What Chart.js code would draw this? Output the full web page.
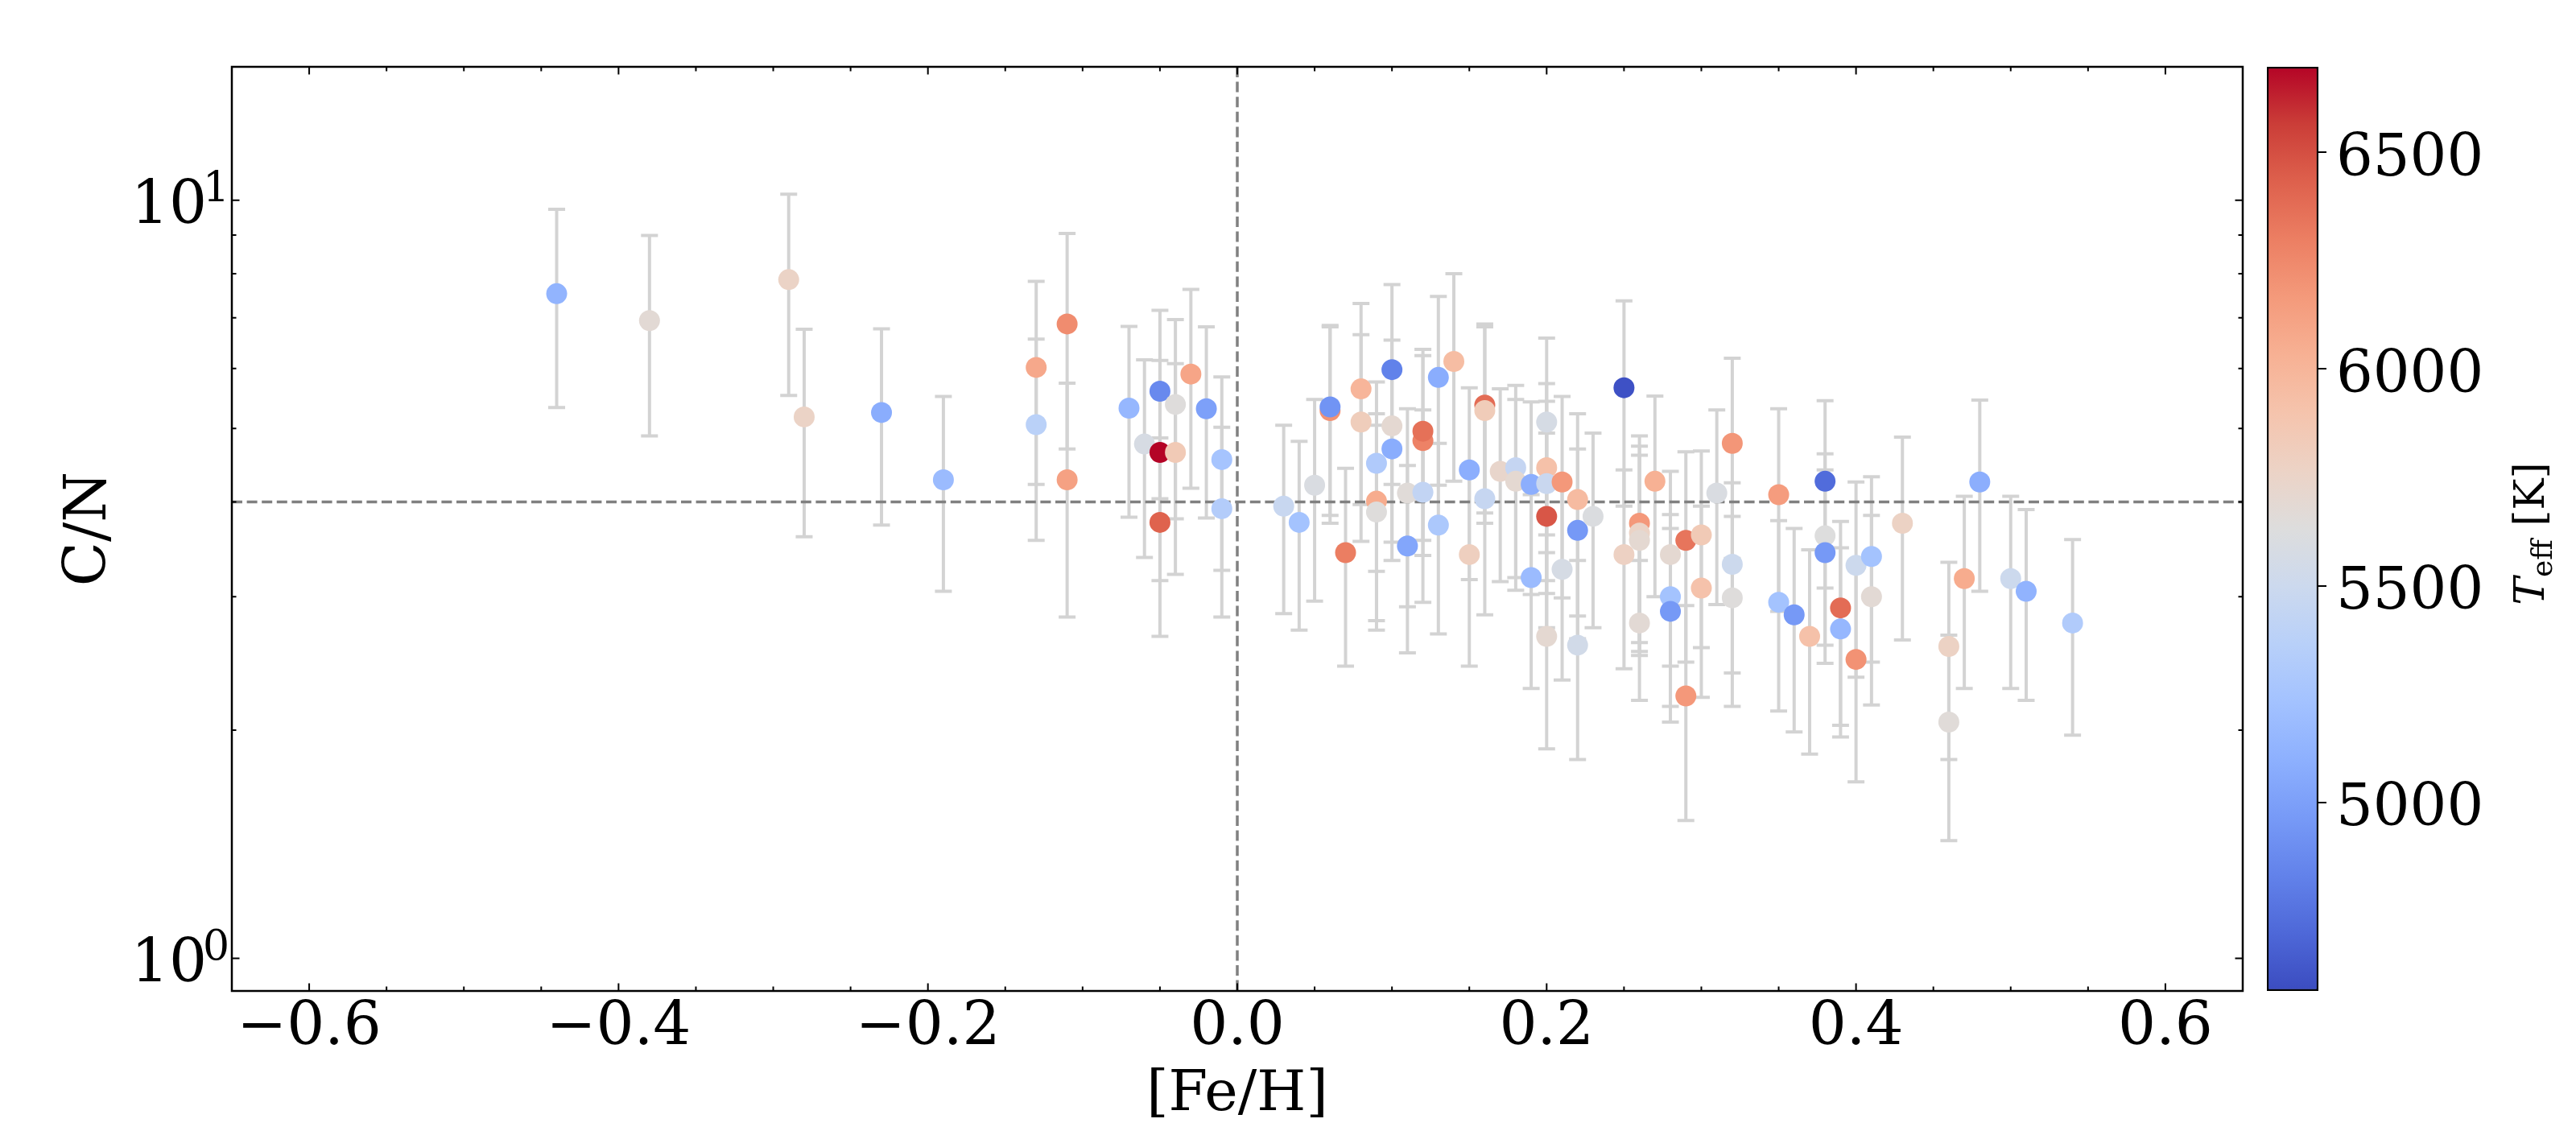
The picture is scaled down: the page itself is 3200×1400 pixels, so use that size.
<!DOCTYPE html>
<html>
<head>
<meta charset="utf-8">
<title>C/N vs [Fe/H]</title>
<script src="https://cdn.jsdelivr.net/npm/chart.js@4.4.0/dist/chart.umd.min.js"></script>
<style>
    html, body { margin: 0; padding: 0; background: #ffffff; }
    #wrap { position: relative; width: 3200px; height: 1400px; }
    #mainChart { position: absolute; left: 0; top: 0; }
    #cbChart { position: absolute; left: 2700px; top: 0; }
</style>
</head>
<body>
<div id="wrap">
    <canvas id="mainChart" width="3200" height="1400"></canvas>
    <canvas id="cbChart" width="500" height="1400"></canvas>
</div>
<script>
// Dados: metalicidade, razão C/N, erro em C/N e Teff de cada estrela
const feH = [
    -0.44, -0.38, -0.29, -0.28, -0.23, -0.19, -0.13, -0.13, -0.11, -0.11,
    -0.07, -0.06, -0.05, -0.05, -0.05, -0.04, -0.04, -0.03, -0.02, -0.01,
    -0.01, 0.03, 0.04, 0.05, 0.06, 0.06, 0.07, 0.08, 0.08, 0.09,
    0.09, 0.09, 0.10, 0.10, 0.10, 0.11, 0.11, 0.12, 0.12, 0.12,
    0.13, 0.13, 0.14, 0.15, 0.15, 0.16, 0.16, 0.16, 0.17, 0.18,
    0.18, 0.19, 0.19, 0.20, 0.20, 0.20, 0.20, 0.20, 0.21, 0.21,
    0.22, 0.22, 0.22, 0.23, 0.25, 0.25, 0.26, 0.26, 0.26, 0.26,
    0.27, 0.28, 0.28, 0.28, 0.29, 0.29, 0.30, 0.30, 0.31, 0.32,
    0.32, 0.32, 0.35, 0.35, 0.36, 0.37, 0.38, 0.38, 0.38, 0.39,
    0.39, 0.40, 0.40, 0.41, 0.41, 0.43, 0.46, 0.46, 0.47, 0.48,
    0.50, 0.51, 0.54
];
const cn = [
    7.53, 6.94, 7.86, 5.18, 5.25, 4.28, 6.02, 5.06, 6.87, 4.28,
    5.32, 4.77, 5.60, 4.65, 3.76, 5.38, 4.65, 5.90, 5.31, 4.55,
    3.92, 3.95, 3.76, 4.21, 5.28, 5.34, 3.43, 5.64, 5.10, 4.50,
    4.01, 3.88, 5.98, 5.04, 4.70, 4.11, 3.50, 4.82, 4.96, 4.12,
    5.84, 3.73, 6.13, 4.41, 3.41, 5.37, 5.28, 4.04, 4.39, 4.44,
    4.26, 4.22, 3.18, 5.10, 4.44, 4.23, 3.83, 2.66, 4.25, 3.26,
    4.03, 3.67, 2.59, 3.83, 5.66, 3.41, 3.75, 3.64, 3.56, 2.77,
    4.26, 3.41, 3.00, 2.87, 3.56, 2.22, 3.62, 3.08, 4.11, 4.78,
    3.31, 2.99, 4.09, 2.95, 2.84, 2.66, 4.26, 3.61, 3.43, 2.90,
    2.72, 3.30, 2.48, 3.39, 3.00, 3.75, 2.58, 2.05, 3.17, 4.25,
    3.17, 3.05, 2.77
];
const cnErr = [
    2.20, 2.05, 2.33, 1.58, 1.52, 1.23, 1.80, 1.50, 2.17, 1.46,
    1.50, 1.39, 1.56, 1.50, 1.10, 1.58, 1.44, 1.73, 1.50, 1.30,
    1.10, 1.10, 1.05, 1.25, 1.53, 1.50, 1.00, 1.67, 1.55, 1.26,
    1.22, 1.17, 1.76, 1.50, 1.35, 1.20, 0.97, 1.42, 1.40, 1.17,
    1.63, 1.05, 1.87, 1.25, 0.98, 1.50, 1.53, 1.20, 1.25, 1.26,
    1.20, 1.20, 0.91, 1.48, 1.29, 1.20, 1.10, 0.77, 1.26, 0.93,
    1.20, 1.03, 0.76, 1.10, 1.71, 1.00, 1.14, 1.10, 1.05, 0.58,
    1.26, 0.98, 0.85, 0.82, 1.10, 0.70, 1.05, 0.87, 1.18, 1.41,
    0.93, 0.84, 1.22, 0.83, 0.85, 0.80, 1.18, 1.02, 0.98, 0.87,
    0.76, 0.95, 0.77, 0.93, 0.84, 1.12, 0.75, 0.62, 0.90, 1.20,
    0.90, 0.86, 0.80
];
const teff = [
    5130, 5680, 5760, 5760, 5080, 5180, 6080, 5380, 6230, 6120,
    5150, 5580, 4870, 6700, 6420, 5640, 5850, 6100, 5000, 5250,
    5330, 5470, 5240, 5600, 6200, 4930, 6300, 6000, 5820, 5310,
    6060, 5640, 4830, 5700, 5080, 5660, 5040, 6280, 6360, 5430,
    5080, 5290, 5950, 5090, 5800, 6380, 5830, 5460, 5730, 5450,
    5700, 5090, 5180, 5570, 5920, 5480, 6470, 5700, 6170, 5570,
    5960, 4960, 5540, 5610, 4590, 5780, 6170, 5760, 5700, 5680,
    6030, 5700, 5240, 4960, 6340, 6170, 5850, 5910, 5600, 6180,
    5500, 5640, 6150, 5240, 4960, 5920, 4720, 5630, 4960, 6380,
    5150, 5500, 6200, 5240, 5680, 5770, 5770, 5660, 6060, 5090,
    5500, 5120, 5320
];

// Marcas dos eixos
const xMajorTicks = [-0.6, -0.4, -0.2, 0.0, 0.2, 0.4, 0.6];
const xMinorTicks = [-0.55, -0.5, -0.45, -0.35, -0.3, -0.25, -0.15, -0.1, -0.05,
    0.05, 0.1, 0.15, 0.25, 0.3, 0.35, 0.45, 0.5, 0.55];
const yMajorTicks = [1, 10];
const yTickExponents = ['0', '1'];
const yMinorTicks = [2, 3, 4, 5, 6, 7, 8, 9];
const cbTicks = [5000, 5500, 6000, 6500];

// Linhas de referência
const refCN = 4.0;
const refFeH = 0.0;

// Limites da escala de cor
const teffMin = 4565;
const teffMax = 6697;

const FONT = "'DejaVu Serif', serif";
const TICK_SIZE = 74;

// Mapa de cores coolwarm (matplotlib), amostrado
const coolwarm = [
    [0.0, 58.6, 76.2, 192.2],
    [0.0625, 77.5, 103.7, 215.5],
    [0.125, 97.7, 129.9, 233.9],
    [0.1875, 119.0, 154.2, 246.9],
    [0.25, 141.0, 175.7, 253.8],
    [0.3125, 163.0, 193.7, 254.5],
    [0.375, 184.2, 207.6, 249.0],
    [0.4375, 203.7, 216.7, 237.6],
    [0.5, 220.7, 220.7, 220.7],
    [0.5625, 235.7, 211.0, 197.5],
    [0.625, 244.5, 196.3, 172.9],
    [0.6875, 247.3, 177.0, 147.7],
    [0.75, 244.3, 153.7, 122.9],
    [0.8125, 235.6, 126.8, 98.9],
    [0.875, 221.6, 96.5, 76.6],
    [0.9375, 202.9, 61.5, 56.2],
    [1.0, 180.0, 4.0, 38.3]
];

function coolwarmColor(t) {
    t = Math.max(0, Math.min(1, t));
    for (let i = 1; i < coolwarm.length; i++) {
        if (t <= coolwarm[i][0]) {
            const a = coolwarm[i - 1], b = coolwarm[i];
            const f = (t - a[0]) / (b[0] - a[0]);
            const r = Math.round(a[1] + f * (b[1] - a[1]));
            const g = Math.round(a[2] + f * (b[2] - a[2]));
            const bl = Math.round(a[3] + f * (b[3] - a[3]));
            return `rgb(${r}, ${g}, ${bl})`;
        }
    }
    return 'rgb(180, 4, 38)';
}

function teffColor(value) {
    return coolwarmColor((value - teffMin) / (teffMax - teffMin));
}

function formatFeH(v) {
    const s = Math.abs(v).toFixed(1);
    return v < -1e-9 ? '\u2212' + s : s;
}

// Barras de erro, linhas tracejadas, moldura e marcas internas
const axesDecor = {
    id: 'axesDecor',
    beforeDatasetsDraw(chart) {
        const { ctx, chartArea, scales: { x, y } } = chart;
        ctx.save();

        // barras de erro (atrás dos pontos)
        ctx.strokeStyle = '#d3d3d3';
        ctx.lineWidth = 4;
        const cap = 10.5;
        for (let i = 0; i < feH.length; i++) {
            const px = x.getPixelForValue(feH[i]);
            const top = y.getPixelForValue(cn[i] + cnErr[i]);
            const bot = y.getPixelForValue(cn[i] - cnErr[i]);
            ctx.beginPath();
            ctx.moveTo(px, top);
            ctx.lineTo(px, bot);
            ctx.moveTo(px - cap, top);
            ctx.lineTo(px + cap, top);
            ctx.moveTo(px - cap, bot);
            ctx.lineTo(px + cap, bot);
            ctx.stroke();
        }

        // linhas de referência tracejadas
        ctx.strokeStyle = '#808080';
        ctx.lineWidth = 3.5;
        ctx.setLineDash([13, 5.6]);
        const yRef = y.getPixelForValue(refCN);
        ctx.beginPath();
        ctx.moveTo(chartArea.left, yRef);
        ctx.lineTo(chartArea.right, yRef);
        ctx.stroke();
        const xRef = x.getPixelForValue(refFeH);
        ctx.beginPath();
        ctx.moveTo(xRef, chartArea.top);
        ctx.lineTo(xRef, chartArea.bottom);
        ctx.stroke();
        ctx.restore();
    },
    afterDraw(chart) {
        const { ctx, chartArea: a, scales: { x, y } } = chart;
        ctx.save();
        ctx.strokeStyle = '#000';
        ctx.lineWidth = 2;

        function xTick(v, len) {
            const px = x.getPixelForValue(v);
            ctx.beginPath();
            ctx.moveTo(px, a.bottom);
            ctx.lineTo(px, a.bottom - len);
            ctx.moveTo(px, a.top);
            ctx.lineTo(px, a.top + len);
            ctx.stroke();
        }
        function yTick(v, len) {
            const py = y.getPixelForValue(v);
            ctx.beginPath();
            ctx.moveTo(a.left, py);
            ctx.lineTo(a.left + len, py);
            ctx.moveTo(a.right, py);
            ctx.lineTo(a.right - len, py);
            ctx.stroke();
        }
        xMajorTicks.forEach(v => xTick(v, 9.5));
        xMinorTicks.forEach(v => xTick(v, 5.5));
        yMajorTicks.forEach(v => yTick(v, 9.5));
        yMinorTicks.forEach(v => yTick(v, 5.5));

        ctx.lineWidth = 2.5;
        ctx.strokeRect(a.left, a.top, a.right - a.left, a.bottom - a.top);

        // expoentes dos rótulos 10^n
        ctx.fillStyle = '#000';
        ctx.font = `${Math.round(TICK_SIZE * 0.7)}px ${FONT}`;
        ctx.textAlign = 'left';
        ctx.textBaseline = 'alphabetic';
        yMajorTicks.forEach((v, i) => {
            ctx.fillText(yTickExponents[i], 252, y.getPixelForValue(v) + 1);
        });
        ctx.restore();
    }
};

// Gráfico principal
const points = feH.map((v, i) => ({ x: v, y: cn[i] }));

new Chart(document.getElementById('mainChart'), {
    type: 'scatter',
    data: {
        datasets: [{
            data: points,
            pointRadius: 13,
            pointHoverRadius: 13,
            borderWidth: 0,
            pointBorderWidth: 0,
            pointBackgroundColor: teff.map(teffColor),
            pointBorderColor: 'rgba(0,0,0,0)'
        }]
    },
    options: {
        responsive: false,
        animation: false,
        devicePixelRatio: 1,
        events: [],
        layout: { padding: { left: 0, top: 83, right: 414, bottom: 0 } },
        plugins: { legend: { display: false }, tooltip: { enabled: false } },
        scales: {
            x: {
                type: 'linear',
                min: -0.65,
                max: 0.65,
                grid: { display: false, drawTicks: false },
                border: { display: false },
                afterBuildTicks: scale => { scale.ticks = xMajorTicks.map(v => ({ value: v })); },
                afterFit: scale => { scale.height = 169; },
                ticks: {
                    autoSkip: false,
                    maxRotation: 0,
                    padding: 2,
                    color: '#000',
                    font: { family: FONT, size: TICK_SIZE },
                    callback: v => formatFeH(v)
                },
                title: {
                    display: true,
                    text: '[Fe/H]',
                    color: '#000',
                    font: { family: FONT, size: 70 },
                    padding: { top: 0, bottom: -3 }
                }
            },
            y: {
                type: 'logarithmic',
                min: 0.906,
                max: 15,
                grid: { display: false, drawTicks: false },
                border: { display: false },
                afterBuildTicks: scale => { scale.ticks = yMajorTicks.map(v => ({ value: v })); },
                afterFit: scale => { scale.width = 288; },
                ticks: {
                    autoSkip: false,
                    padding: 31,
                    labelOffset: 9,
                    color: '#000',
                    font: { family: FONT, size: TICK_SIZE },
                    callback: () => '10'
                },
                title: {
                    display: true,
                    text: 'C/N',
                    color: '#000',
                    font: { family: FONT, size: 72 },
                    padding: { top: 69, bottom: 0 }
                }
            }
        }
    },
    plugins: [axesDecor]
});

// Rótulo da barra de cores: T_eff [K]
const cbLabel = {
    id: 'cbLabel',
    afterDraw(chart) {
        const ctx = chart.ctx;
        const fs = 52;
        const a = chart.chartArea;
        ctx.save();
        ctx.fillStyle = '#000';
        ctx.translate(441, (a.top + a.bottom) / 2 + 6);
        ctx.rotate(-Math.PI / 2);
        ctx.textAlign = 'left';
        ctx.textBaseline = 'alphabetic';
        const italicFont = `italic ${fs}px ${FONT}`;
        const subFont = `${Math.round(fs * 0.7)}px ${FONT}`;
        const mainFont = `${fs}px ${FONT}`;
        ctx.font = italicFont;
        const wT = ctx.measureText('T').width;
        ctx.font = subFont;
        const wSub = ctx.measureText('eff').width;
        ctx.font = mainFont;
        const wK = ctx.measureText(' [K]').width;
        const base = fs * 0.365;
        let pos = -(wT + wSub + wK) / 2;
        ctx.font = italicFont;
        ctx.fillText('T', pos, base);
        pos += wT;
        ctx.font = subFont;
        ctx.fillText('eff', pos, base + fs * 0.2);
        pos += wSub;
        ctx.font = mainFont;
        ctx.fillText(' [K]', pos, base);
        ctx.restore();
    }
};

// Barra de cores como uma barra flutuante com gradiente
new Chart(document.getElementById('cbChart'), {
    type: 'bar',
    data: {
        labels: ['Teff'],
        datasets: [{
            data: [[teffMin, teffMax]],
            barPercentage: 1,
            categoryPercentage: 1,
            borderColor: '#000',
            borderWidth: 2.5,
            borderSkipped: false,
            backgroundColor: context => {
                const chart = context.chart;
                const { ctx, chartArea, scales } = chart;
                if (!chartArea) return null;
                const g = ctx.createLinearGradient(0, scales.y.getPixelForValue(teffMin),
                    0, scales.y.getPixelForValue(teffMax));
                coolwarm.forEach(s => g.addColorStop(s[0], `rgb(${s[1]}, ${s[2]}, ${s[3]})`));
                return g;
            }
        }]
    },
    options: {
        responsive: false,
        animation: false,
        devicePixelRatio: 1,
        events: [],
        layout: { padding: { left: 116, top: 83, right: 0, bottom: 169 } },
        plugins: { legend: { display: false }, tooltip: { enabled: false } },
        scales: {
            x: { display: false },
            y: {
                position: 'right',
                min: teffMin,
                max: teffMax,
                border: { display: false },
                grid: {
                    drawOnChartArea: false,
                    drawTicks: true,
                    tickLength: 10,
                    color: '#000',
                    lineWidth: 2
                },
                afterBuildTicks: scale => { scale.ticks = cbTicks.map(v => ({ value: v })); },
                afterFit: scale => { scale.width = 320; },
                ticks: {
                    padding: 12,
                    labelOffset: 10,
                    color: '#000',
                    font: { family: FONT, size: 72 },
                    callback: v => String(v)
                }
            }
        }
    },
    plugins: [cbLabel]
});
</script>
</body>
</html>
